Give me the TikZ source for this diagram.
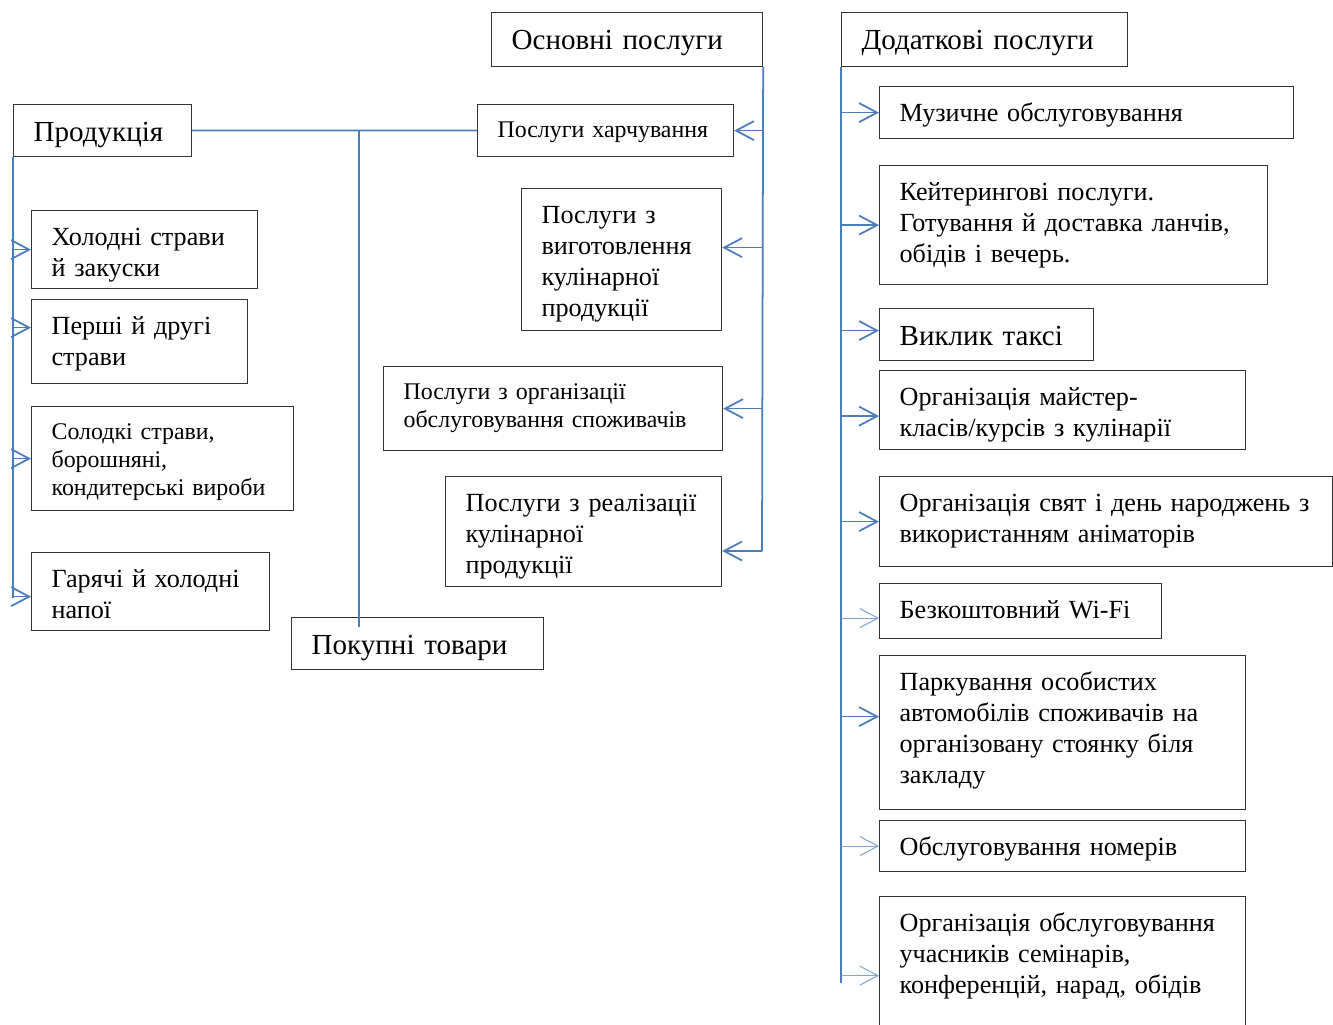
\documentclass[tikz,border=0pt]{standalone}
\usepackage{fontspec}
\setmainfont{Liberation Serif}
\usetikzlibrary{calc,arrows.meta}
\definecolor{lineblue}{HTML}{4A7EBB}
\definecolor{paleblue}{HTML}{7EA6D8}

\begin{document}
\begin{tikzpicture}[x=0.02cm,y=-0.02cm,
  box/.style={anchor=north west,draw=black!80,line width=0.7pt,inner xsep=0.4cm,inner ysep=0pt,align=left,
    font=\fontsize{14.9}{17.6}\selectfont,text height=0.704cm},
  big/.style={font=\fontsize{16.55}{19}\selectfont,text height=0.745cm},
  sml/.style={font=\fontsize{13.6}{15.9}\selectfont,text height=0.66cm},
  conn/.style={lineblue,line width=1pt},
  arr/.style={conn,-{Straight Barb[length=0.36cm,width=0.38cm]}},
  larr/.style={paleblue,line width=0.6pt,-{Straight Barb[length=0.36cm,width=0.38cm]}}]
\useasboundingbox (0,0) rectangle (1333,1025);

% left column
\node[box,big,text width=2.76cm,text depth=0.295cm] (prod) at (13,104) {Продукція};
\node[box,text width=3.72cm,text depth=0.856cm] (xol) at (31,210) {Холодні страви\\й закуски};
\node[box,text width=3.52cm,text depth=0.976cm] (persh) at (31,299) {Перші й другі\\страви};
\node[box,sml,text width=4.44cm,text depth=1.42cm] (solod) at (31,406) {Солодкі страви,\\борошняні,\\кондитерські вироби};
\node[box,text width=3.96cm,text depth=0.856cm] (napoi) at (31,552) {Гарячі й холодні\\напої};
\node[box,big,text width=4.24cm,text depth=0.295cm] (pokup) at (291,617) {Покупні товари};

% middle column
\node[box,big,text width=4.62cm,text depth=0.335cm] (osn) at (491,12) {Основні послуги};
\node[box,sml,text width=4.32cm,text depth=0.38cm] (xarch) at (477,104) {Послуги харчування};
\node[box,text width=3.2cm,text depth=2.136cm] (vygot) at (521,188) {Послуги з\\виготовлення\\кулінарної\\продукції};
\node[box,sml,text width=5.98cm,text depth=1.02cm] (orgobs) at (383,366) {Послуги з організації\\обслуговування споживачів};
\node[box,text width=4.72cm,text depth=1.496cm] (realiz) at (445,476) {Послуги з реалізації\\кулінарної\\продукції};

% right column
\node[box,big,text width=4.92cm,text depth=0.335cm] (dod) at (841,12) {Додаткові послуги};
\node[box,text width=7.48cm,text depth=0.336cm] (muz) at (879,86) {Музичне обслуговування};
\node[box,text width=6.96cm,text depth=1.676cm] (keit) at (879,165) {Кейтерингові послуги.\\Готування й доставка ланчів,\\обідів і вечерь.};
\node[box,big,text width=3.48cm,text depth=0.295cm] (taxi) at (879,308) {Виклик таксі};
\node[box,text width=6.52cm,text depth=0.876cm] (maist) at (879,370) {Організація майстер-\\класів/курсів з кулінарії};
\node[box,text width=8.26cm,text depth=1.096cm] (svyat) at (879,476) {Організація свят і день народжень з\\використанням аніматорів};
\node[box,text width=4.84cm,text depth=0.396cm] (wifi) at (879,583) {Безкоштовний Wi-Fi};
\node[box,text width=6.52cm,text depth=2.376cm] (park) at (879,655) {Паркування особистих\\автомобілів споживачів на\\організовану стоянку біля\\закладу};
\node[box,text width=6.52cm,text depth=0.316cm] (nomer) at (879,820) {Обслуговування номерів};
\node[box,text width=6.52cm,text depth=1.976cm] (semin) at (879,896) {Організація обслуговування\\учасників семінарів,\\конференцій, нарад, обідів};

% top links
\draw[conn] (prod.east) -- (xarch.west);
\coordinate (j1) at (359,130);
\draw[conn] (j1) -- (j1 |- pokup.north) -- ++(0,10);

% left trunk
\coordinate (ltr) at (13,598);
\draw[conn] (prod.south west) -- (ltr);
\draw[arr] (ltr |- xol.west) -- (xol.west);
\draw[arr] ($(ltr |- persh.west)+(0,-14)$) -- ($(persh.west)+(0,-14)$);
\draw[arr] (ltr |- solod.west) -- (solod.west);
\draw[arr] ($(ltr |- napoi.west)+(0,5)$) -- ($(napoi.west)+(0,5)$);

% middle trunk
\coordinate (mtr) at (762,551);
\draw[conn] (osn.south east) -- (mtr);
\draw[arr] (mtr |- xarch.east) -- (xarch.east);
\draw[arr] ($(mtr |- vygot.east)+(0,-12)$) -- ($(vygot.east)+(0,-12)$);
\draw[arr] (mtr |- orgobs.east) -- (orgobs.east);
\draw[arr] (mtr) -- (mtr -| realiz.east);

% right trunk
\coordinate (rtr) at (841,983);
\draw[conn] (dod.south west) -- (rtr);
\draw[arr] (rtr |- muz.west) -- (muz.west);
\draw[arr] (rtr |- keit.west) -- (keit.west);
\draw[arr] ($(rtr |- taxi.west)+(0,-4)$) -- ($(taxi.west)+(0,-4)$);
\draw[arr] ($(rtr |- maist.west)+(0,6)$) -- ($(maist.west)+(0,6)$);
\draw[arr] (rtr |- svyat.west) -- (svyat.west);
\draw[larr] ($(rtr |- wifi.west)+(0,7)$) -- ($(wifi.west)+(0,7)$);
\draw[arr] ($(rtr |- park.west)+(0,-16)$) -- ($(park.west)+(0,-16)$);
\draw[larr] (rtr |- nomer.west) -- (nomer.west);
\draw[larr] ($(rtr |- semin.west)+(0,12)$) -- ($(semin.west)+(0,12)$);
\end{tikzpicture}
\end{document}
